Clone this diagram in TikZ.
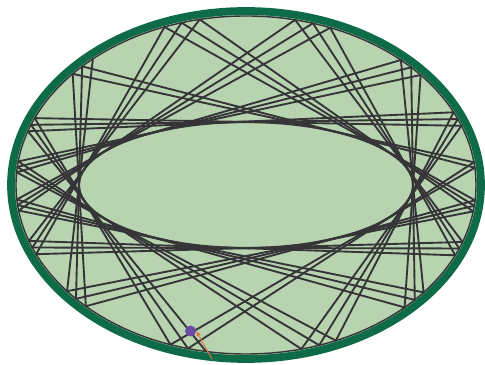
\documentclass[tikz,border=0pt]{standalone}
\usepackage{tikz}
\usetikzlibrary{arrows.meta}
\definecolor{felt}{HTML}{B8D3B0}
\definecolor{rim}{HTML}{0D6B47}
\definecolor{ink}{HTML}{353437}
\definecolor{ballc}{HTML}{6B4BA3}
\definecolor{velc}{HTML}{E8703A}
\tikzset{
  tbl/.style={draw=rim,fill=felt,line width=6.6pt},
  bnd/.style={draw=ink,line width=1.2pt},
  chd/.style={draw=ink,line width=1.6pt,line cap=round},
  cst/.style={draw=ink,line width=1.8pt},
  bal/.style={circle,fill=ballc,minimum size=3.3mm,inner sep=0pt},
  vel/.style={-{Latex[length=1.5mm,width=1.4mm]},draw=velc,line width=.8pt},
}
% table (outer) and caustic (inner) half axes, 1 unit = 100px
\def\oa{2.30}\def\ob{1.69}
\def\ca{1.67}\def\cb{0.63}

\begin{document}
\begin{tikzpicture}[x=3cm,y=3cm]
\useasboundingbox (-2.46,-1.80) rectangle (2.39,1.85);
% ============================= table
\draw[tbl] (0,0) ellipse [x radius=2.35,y radius=1.74];
\draw[bnd] (0,0) ellipse [x radius=\oa,y radius=\ob];
% ============================= trajectory, every chord tangent to the caustic
\pgfmathsetmacro\bx{\oa*cos(-100)}
\pgfmathsetmacro\by{\ob*sin(-100)}
\coordinate (p0) at (\bx,\by);
\foreach \i [evaluate=\i as \j using int(\i-1)] in {1,...,46}{
  \pgfmathsetmacro\u{\bx/\ca}
  \pgfmathsetmacro\v{\by/\cb}
  \pgfmathsetmacro\ang{atan2(\v,\u)}
  \pgfmathsetmacro\al{acos(1/sqrt(\u*\u+\v*\v))}
  \pgfmathsetmacro\ddx{\ca*cos(\ang-\al)-\bx}
  \pgfmathsetmacro\ddy{\cb*sin(\ang-\al)-\by}
  \pgfmathsetmacro\tk{-2*((\bx)*(\ddx)/(\oa*\oa)+(\by)*(\ddy)/(\ob*\ob))/((\ddx)*(\ddx)/(\oa*\oa)+(\ddy)*(\ddy)/(\ob*\ob))}
  \pgfmathsetmacro\nx{\bx+\tk*(\ddx)}
  \pgfmathsetmacro\ny{\by+\tk*(\ddy)}
  % pull the point back onto the rim
  \pgfmathsetmacro\kk{1/sqrt((\nx)*(\nx)/(\oa*\oa)+(\ny)*(\ny)/(\ob*\ob))}
  \pgfmathsetmacro\nx{\nx*\kk}
  \pgfmathsetmacro\ny{\ny*\kk}
  \coordinate (p\i) at (\nx,\ny);
  \draw[chd] (p\j) -- (p\i);
  \xdef\bx{\nx}\xdef\by{\ny}
}
\draw[cst] (0,0) ellipse [x radius=\ca,y radius=\cb];
% ============================= ball
\node[bal] (ball) at (-0.555,-1.46) {};
\coordinate (kick) at (-0.34,-1.74);
\draw[vel] (kick) -- (ball.east);
\end{tikzpicture}
\end{document}
